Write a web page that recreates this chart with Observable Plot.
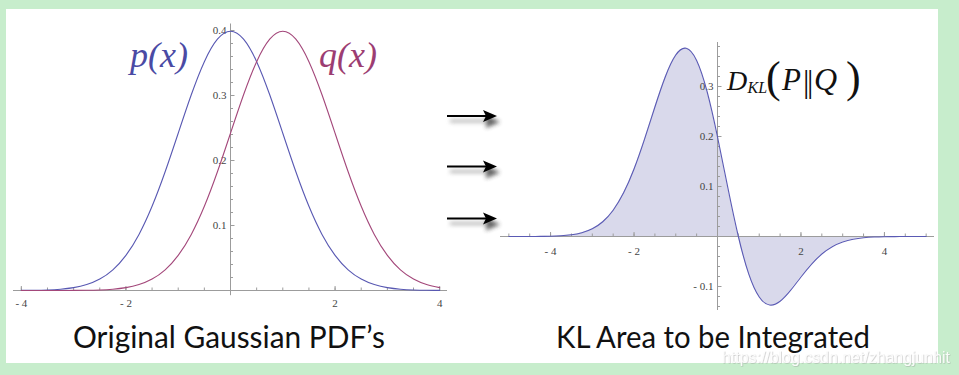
<!DOCTYPE html>
<html><head><meta charset="utf-8">
<script src="https://cdn.jsdelivr.net/npm/d3@7"></script>
<script src="https://cdn.jsdelivr.net/npm/@observablehq/plot@0.6"></script>
<style>
html,body{margin:0;padding:0;}
body{width:959px;height:375px;background:#c7edcc;position:relative;overflow:hidden;}
#panel{position:absolute;left:6px;top:9px;width:932px;height:354px;background:#fff;}
.abs{position:absolute;top:0;}
</style></head><body>
<div id="panel"></div>
<div id="left" class="abs" style="left:0px"></div>
<div id="right" class="abs" style="left:480px"></div>
<svg id="overlay" class="abs" style="left:0px" width="959" height="375">
  <defs>
    <filter id="blur" x="-50%" y="-100%" width="200%" height="300%"><feGaussianBlur stdDeviation="2.2"/></filter>
    <filter id="wm" x="-10%" y="-50%" width="120%" height="200%"><feDropShadow dx="0.6" dy="0.6" stdDeviation="0.6" flood-color="#888" flood-opacity="0.6"/></filter>
  </defs>
  <g id="arrows"></g>
  <text x="130" y="67" font-family="Liberation Serif" font-style="italic" font-size="36" fill="#4a4aa4">p(x)</text>
  <text x="319" y="67" font-family="Liberation Serif" font-style="italic" font-size="36" fill="#9c3d72">q(x)</text>
  <text x="727" y="90" font-family="Liberation Serif" font-style="italic" font-size="28" fill="#111">D</text>
  <text x="747.5" y="93" font-family="Liberation Serif" font-style="italic" font-size="16" fill="#111">KL</text>
  <text x="766" y="92" font-family="Liberation Serif" font-size="44" fill="#111">(</text>
  <text x="782" y="90" font-family="Liberation Serif" font-style="italic" font-size="31" fill="#111">P</text>
  <text x="803" y="92" font-family="Liberation Serif" font-size="32" letter-spacing="-2.5" fill="#111">||</text>
  <text x="814" y="90" font-family="Liberation Serif" font-style="italic" font-size="32" fill="#111">Q</text>
  <text x="846" y="92" font-family="Liberation Serif" font-size="44" fill="#111">)</text>
  <text x="73" y="348" font-family="Lato" font-size="30" fill="#111" textLength="312" lengthAdjust="spacingAndGlyphs">Original Gaussian PDF’s</text>
  <text x="556" y="348" font-family="Lato" font-size="30" fill="#111" textLength="314" lengthAdjust="spacingAndGlyphs">KL Area to be Integrated</text>
  <text x="722" y="363" font-family="Liberation Sans" font-size="16" fill="#ffffff" fill-opacity="0.9" filter="url(#wm)" textLength="228" lengthAdjust="spacingAndGlyphs">https://blog.csdn.net/zhangjunhit</text>
</svg>
<script>
// ---- data ----
const xLeft = [-4,-3.75,-3.5,-3.25,-3,-2.75,-2.5,-2.25,-2,-1.75,-1.5,-1.25,-1,-0.75,-0.5,-0.25,0,0.25,0.5,0.75,1,1.25,1.5,1.75,2,2.25,2.5,2.75,3,3.25,3.5,3.75,4];
const pValues = [0.00013,0.00035,0.00087,0.00203,0.00443,0.00909,0.01753,0.03174,0.05399,0.08628,0.12952,0.18265,0.24197,0.30114,0.35207,0.38667,0.39894,0.38667,0.35207,0.30114,0.24197,0.18265,0.12952,0.08628,0.05399,0.03174,0.01753,0.00909,0.00443,0.00203,0.00087,0.00035,0.00013];
const qValues = [0.0000015,0.000005,0.000016,0.000048,0.00013,0.00035,0.00087,0.00203,0.00443,0.00909,0.01753,0.03174,0.05399,0.08628,0.12952,0.18265,0.24197,0.30114,0.35207,0.38667,0.39894,0.38667,0.35207,0.30114,0.24197,0.18265,0.12952,0.08628,0.05399,0.03174,0.01753,0.00909,0.00443];
const xRight = [-5,-4.75,-4.5,-4.25,-4,-3.75,-3.5,-3.25,-3,-2.75,-2.5,-2.25,-2,-1.75,-1.5,-1.25,-1,-0.75,-0.5,-0.25,0,0.25,0.5,0.75,1,1.25,1.5,1.75,2,2.25,2.5,2.75,3,3.25,3.5,3.75,4,4.25,4.5,4.75,5];
const klValues = [0.00001,0.00003,0.00008,0.00023,0.0006,0.0015,0.00349,0.00761,0.01551,0.02956,0.05258,0.08729,0.13498,0.19412,0.25904,0.31964,0.36296,0.37642,0.35207,0.29,0.19947,0.09667,0,-0.07528,-0.12099,-0.13699,-0.12952,-0.10785,-0.08099,-0.05555,-0.03506,-0.02046,-0.01108,-0.00558,-0.00262,-0.00115,-0.00047,-0.00018,-0.00006,-0.00002,-0.00001];
const leftXTickLabels = [-4,-2,2,4];
const leftYTickLabels = [0.1,0.2,0.3,0.4];
const rightXTickLabels = [-4,-2,2,4];
const rightYTickLabels = [-0.1,0.1,0.2,0.3];
const leftYAxisExtent = [-0.008,0.41];
const rightYAxisExtent = [-0.148,0.388];
const arrowRows = [116,166.5,218.5];

// ---- helpers ----
const axisColor = "#9c9c9c";
const fmt = d => d < 0 ? "- " + (-d) : String(d);
const leftXMinor = d3.range(-4, 4.001, 0.5);
const leftYMinor = d3.range(0.02, 0.4001, 0.02);
const rightXMinor = d3.range(-5, 5.001, 0.5);
const rightYMinor = d3.range(-0.14, 0.3801, 0.02).filter(v => Math.abs(v) > 1e-9);

function axes({xMinor, xMajor, yMinor, yLabels, yExtent, xDy}) {
  return [
    Plot.ruleY([0], {stroke: axisColor, strokeWidth: 1}),
    Plot.ruleX([0], {y1: yExtent[0], y2: yExtent[1], stroke: axisColor, strokeWidth: 1}),
    Plot.ruleX(xMinor, {x: d => d, y1: 0, y2: 0, insetTop: -2.5, stroke: axisColor}),
    Plot.ruleX(xMajor, {x: d => d, y1: 0, y2: 0, insetTop: -4, stroke: axisColor}),
    Plot.ruleY(yMinor, {y: d => d, x1: 0, x2: 0, insetRight: -3, stroke: axisColor}),
    Plot.ruleY(yLabels, {y: d => d, x1: 0, x2: 0, insetRight: -4.5, stroke: axisColor}),
    Plot.text(xMajor, {x: d => d, y: 0, dy: xDy, text: fmt, fontFamily: "Liberation Serif", fontSize: 11, fill: "#444"}),
    Plot.text(yLabels, {x: 0, y: d => d, dx: -4, textAnchor: "end", text: fmt, fontFamily: "Liberation Serif", fontSize: 11, fill: "#444"})
  ];
}

const pTable = xLeft.map((x, i) => ({x, y: pValues[i]}));
const qTable = xLeft.map((x, i) => ({x, y: qValues[i]}));
const klTable = xRight.map((x, i) => ({x, y: klValues[i]}));

const left = Plot.plot({
  width: 480, height: 375,
  marginLeft: 13, marginRight: 33, marginTop: 30, marginBottom: 85,
  x: {domain: [-4.15, 4.15], axis: null},
  y: {domain: [0, 0.4], axis: null},
  style: {background: "transparent", overflow: "visible"},
  marks: [
    ...axes({xMinor: leftXMinor, xMajor: leftXTickLabels, yMinor: leftYMinor, yLabels: leftYTickLabels, yExtent: leftYAxisExtent, xDy: 13}),
    Plot.line(pTable, {x: "x", y: "y", stroke: "#5858b2", strokeWidth: 1.1, curve: "natural"}),
    Plot.line(qTable, {x: "x", y: "y", stroke: "#a3477a", strokeWidth: 1.1, curve: "natural"})
  ]
});
document.getElementById("left").append(left);

const right = Plot.plot({
  width: 479, height: 375,
  marginLeft: 20, marginRight: 25, marginTop: 41, marginBottom: 64,
  x: {domain: [-5.2, 5.2], axis: null},
  y: {domain: [-0.15, 0.39], axis: null},
  style: {background: "transparent", overflow: "visible"},
  marks: [
    Plot.areaY(klTable, {x: "x", y: "y", fill: "#d9d9eb", curve: "natural"}),
    ...axes({xMinor: rightXMinor, xMajor: rightXTickLabels, yMinor: rightYMinor, yLabels: rightYTickLabels, yExtent: rightYAxisExtent, xDy: 15}),
    Plot.line(klTable, {x: "x", y: "y", stroke: "#5a5ab4", strokeWidth: 1.1, curve: "natural"})
  ]
});
document.getElementById("right").append(right);

// arrows
const g = d3.select("#arrows");
for (const y of arrowRows) {
  const sh = g.append("g").attr("filter", "url(#blur)").attr("opacity", 0.75);
  sh.append("line").attr("x1", 450).attr("x2", 490).attr("y1", y + 5).attr("y2", y + 5).attr("stroke", "#999").attr("stroke-width", 3);
  sh.append("path").attr("d", `M486,${y-1}L500,${y+6}L486,${y+12}Z`).attr("fill", "#333");
  g.append("line").attr("x1", 447).attr("x2", 488).attr("y1", y).attr("y2", y).attr("stroke", "#000").attr("stroke-width", 1.8);
  g.append("path").attr("d", `M483,${y-6}L497,${y}L483,${y+6}L486,${y}Z`).attr("fill", "#000");
}
</script>
</body></html>
